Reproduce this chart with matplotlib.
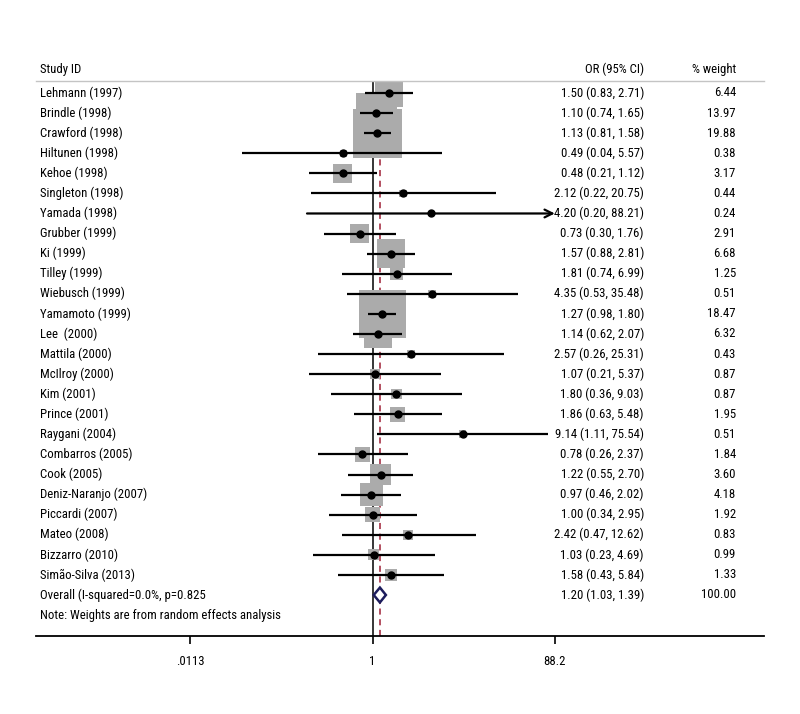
import numpy as np
import matplotlib
matplotlib.use("Agg")
import matplotlib.pyplot as plt
from matplotlib.transforms import blended_transform_factory

plt.rcParams["font.family"] = ["Roboto Condensed", "Open Sans Condensed",
                               "DejaVu Sans"]
plt.rcParams["font.stretch"] = "condensed"
fontsize = 9.2

studies = [
    "Lehmann (1997)", "Brindle (1998)", "Crawford (1998)", "Hiltunen (1998)",
    "Kehoe (1998)", "Singleton (1998)", "Yamada (1998)", "Grubber (1999)",
    "Ki (1999)", "Tilley (1999)", "Wiebusch (1999)", "Yamamoto (1999)",
    "Lee  (2000)", "Mattila (2000)", "McIlroy (2000)", "Kim (2001)",
    "Prince (2001)", "Raygani (2004)", "Combarros (2005)", "Cook (2005)",
    "Deniz-Naranjo (2007)", "Piccardi (2007)", "Mateo (2008)",
    "Bizzarro (2010)", "Simão-Silva (2013)",
]
or_vals = [1.50, 1.10, 1.13, 0.49, 0.48, 2.12, 4.20, 0.73, 1.57, 1.81, 4.35,
           1.27, 1.14, 2.57, 1.07, 1.80, 1.86, 9.14, 0.78, 1.22, 0.97, 1.00,
           2.42, 1.03, 1.58]
# CI ends as drawn in the picture
ci_low = [0.83, 0.74, 0.81, 0.04, 0.21, 0.22, 0.20, 0.30, 0.88, 0.47, 0.53,
          0.90, 0.62, 0.26, 0.21, 0.36, 0.63, 1.11, 0.26, 0.55, 0.46, 0.34,
          0.47, 0.23, 0.43]
ci_high = [2.71, 1.65, 1.58, 5.57, 1.12, 20.75, 88.21, 1.76, 2.81, 6.99, 35.48,
           1.80, 2.07, 25.31, 5.37, 9.03, 5.48, 75.54, 2.37, 2.70, 2.02, 2.95,
           12.62, 4.69, 5.84]
or_labels = [
    "1.50 (0.83, 2.71)", "1.10 (0.74, 1.65)", "1.13 (0.81, 1.58)",
    "0.49 (0.04, 5.57)", "0.48 (0.21, 1.12)", "2.12 (0.22, 20.75)",
    "4.20 (0.20, 88.21)", "0.73 (0.30, 1.76)", "1.57 (0.88, 2.81)",
    "1.81 (0.74, 6.99)", "4.35 (0.53, 35.48)", "1.27 (0.98, 1.80)",
    "1.14 (0.62, 2.07)", "2.57 (0.26, 25.31)", "1.07 (0.21, 5.37)",
    "1.80 (0.36, 9.03)", "1.86 (0.63, 5.48)", "9.14 (1.11, 75.54)",
    "0.78 (0.26, 2.37)", "1.22 (0.55, 2.70)", "0.97 (0.46, 2.02)",
    "1.00 (0.34, 2.95)", "2.42 (0.47, 12.62)", "1.03 (0.23, 4.69)",
    "1.58 (0.43, 5.84)",
]
weights = [6.44, 13.97, 19.88, 0.38, 3.17, 0.44, 0.24, 2.91, 6.68, 1.25, 0.51,
           18.47, 6.32, 0.43, 0.87, 0.87, 1.95, 0.51, 1.84, 3.60, 4.18, 1.92,
           0.83, 0.99, 1.33]

overall_label = "Overall (I-squared=0.0%, p=0.825"
overall_or, overall_low, overall_high = 1.20, 1.03, 1.39
overall_text = "1.20 (1.03, 1.39)"
overall_weight = "100.00"
note = "Note: Weights are from random effects analysis"
tick_vals = [0.0113, 1, 88.2]
tick_labels = [".0113", "1", "88.2"]

# pixel layout of the original: 1 at x=372.5, 93.7 px per decade
W, H = 800, 714
x1, pxdec = 372.5, 93.7
ax_left, ax_right, ax_top, ax_bot = 36, 764, 81, 636
row1, rowh = 93, 20.08

fig = plt.figure(figsize=(W / 100, H / 100), dpi=100)
ax = fig.add_axes([ax_left / W, 1 - ax_bot / H, (ax_right - ax_left) / W,
                   (ax_bot - ax_top) / H])
ax.set_xscale("log")
ax.set_xlim(10 ** ((ax_left - x1) / pxdec), 10 ** ((ax_right - x1) / pxdec))
ax.set_ylim(1 + (ax_bot - row1) / rowh, 1 + (ax_top - row1) / rowh)

rows = np.arange(1, len(studies) + 1)
xmax = tick_vals[-1]

ax.axvline(1, color="black", lw=1.1, zorder=1)
ax.axvline(overall_or, color="#9e1f35", lw=1.1, ls=(0, (4, 3)), zorder=1)

side_pt = 11 * np.sqrt(weights) * 0.72
ax.scatter(or_vals, rows, s=side_pt ** 2, marker="s", color="#ababab",
           linewidths=0, zorder=2)

for y, lo, hi in zip(rows, ci_low, ci_high):
    if hi > xmax:
        ax.annotate("", xy=(xmax, y), xytext=(lo, y),
                    arrowprops=dict(arrowstyle="->", lw=1.6, color="black",
                                    mutation_scale=14, shrinkA=0, shrinkB=0),
                    zorder=3)
    else:
        ax.plot([lo, hi], [y, y], color="black", lw=1.6, zorder=3,
                solid_capstyle="butt")
ax.plot(or_vals, rows, "o", color="black", ms=5, zorder=4)

yo = len(studies) + 1
dh = 0.37
ax.fill([overall_low, overall_or, overall_high, overall_or],
        [yo, yo - dh, yo, yo + dh], facecolor="white", edgecolor="#1c1c5c",
        lw=1.8, zorder=4)

for s in ["left", "right"]:
    ax.spines[s].set_visible(False)
ax.spines["top"].set_color("#c4c4c4")
ax.spines["top"].set_linewidth(1.0)
ax.spines["bottom"].set_linewidth(1.3)
ax.set_yticks([])
ax.set_xticks(tick_vals)
ax.set_xticklabels(tick_labels, fontsize=fontsize)
ax.minorticks_off()
ax.tick_params(axis="x", direction="out", length=6, width=1.2, pad=8)

tr = blended_transform_factory(fig.transFigure, ax.transData)
col_study, col_or, col_w = 40 / W, 644 / W, 736 / W
hy = 1 + (69 - row1) / rowh
ax.text(col_study, hy, "Study ID", transform=tr, fontsize=fontsize,
        va="center", ha="left")
ax.text(col_or, hy, "OR (95% CI)", transform=tr, fontsize=fontsize,
        va="center", ha="right")
ax.text(col_w, hy, "% weight", transform=tr, fontsize=fontsize,
        va="center", ha="right")

for y, name, lab, w in zip(rows, studies, or_labels, weights):
    ax.text(col_study, y, name, transform=tr, fontsize=fontsize, va="center")
    ax.text(col_or, y, lab, transform=tr, fontsize=fontsize, va="center",
            ha="right")
    ax.text(col_w, y, f"{w:.2f}", transform=tr, fontsize=fontsize,
            va="center", ha="right")

ax.text(col_study, yo, overall_label, transform=tr, fontsize=fontsize,
        va="center")
ax.text(col_or, yo, overall_text, transform=tr, fontsize=fontsize,
        va="center", ha="right")
ax.text(col_w, yo, overall_weight, transform=tr, fontsize=fontsize,
        va="center", ha="right")
ax.text(col_study, yo + 1, note, transform=tr, fontsize=fontsize,
        va="center")

fig.savefig("out.png", dpi=100)
